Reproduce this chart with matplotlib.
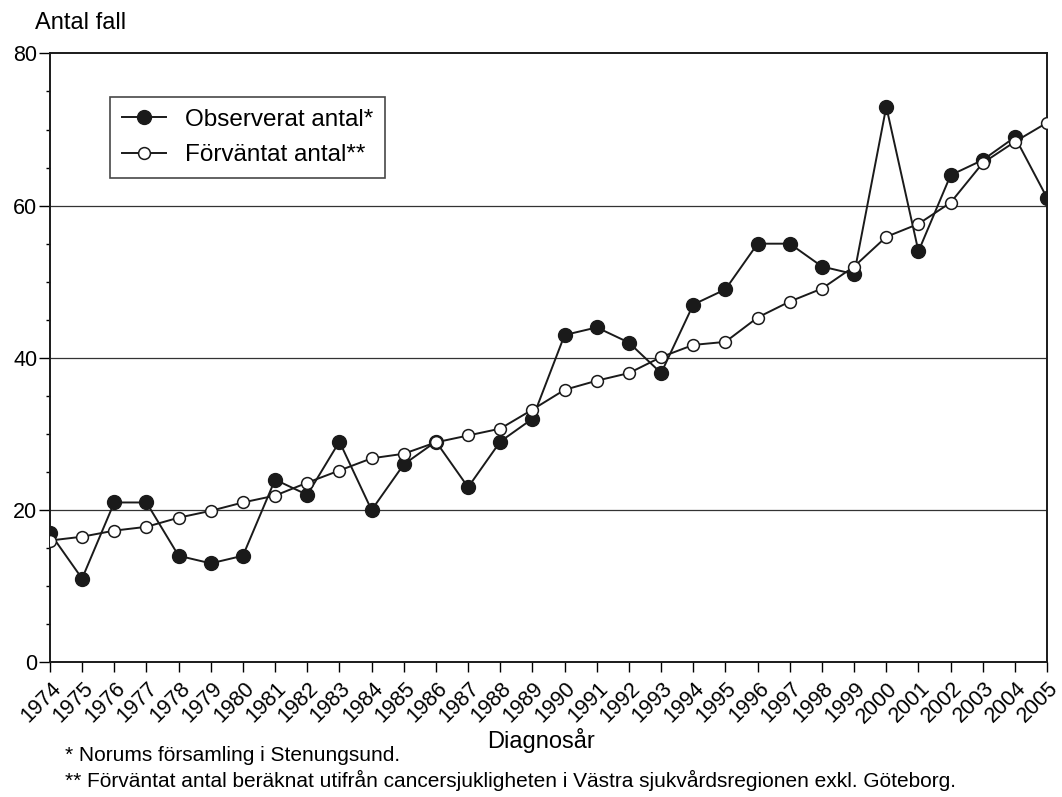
import numpy as np
import matplotlib
matplotlib.use("Agg")
import matplotlib.pyplot as plt
from matplotlib.ticker import MultipleLocator
from matplotlib.transforms import ScaledTranslation

plt.rcParams["font.family"] = ["Liberation Sans", "DejaVu Sans"]

# data
years = list(range(1974, 2006))
observed = [17, 11, 21, 21, 14, 13, 14, 24, 22, 29, 20, 26, 29, 23, 29, 32,
            43, 44, 42, 38, 47, 49, 55, 55, 52, 51, 73, 54, 64, 66, 69, 61]
expected = [16.0, 16.5, 17.3, 17.8, 19.0, 19.9, 21.0, 21.9, 23.6, 25.2, 26.8, 27.4,
            28.9, 29.8, 30.7, 33.2, 35.8, 37.0, 38.0, 40.1, 41.7, 42.1, 45.3, 47.4,
            49.1, 52.0, 55.9, 57.6, 60.4, 65.6, 68.4, 70.9]

fig = plt.figure(figsize=(10.62, 7.97), dpi=100)
ax = fig.add_axes([0.047, 0.169, 0.939, 0.764])

for y in [20, 40, 60]:
    ax.axhline(y, color="#333333", lw=0.9, zorder=1)

ax.plot(years, observed, color="#1a1a1a", lw=1.4, marker="o", ms=10,
        mfc="#1a1a1a", mec="#1a1a1a", label="Observerat antal*", zorder=3)
ax.plot(years, expected, color="#1a1a1a", lw=1.4, marker="o", ms=8.5,
        mfc="white", mec="#1a1a1a", mew=1.1, label="Förväntat antal**", zorder=4)

ax.set_xlim(1974, 2005)
ax.set_ylim(0, 80)
ax.yaxis.set_major_locator(MultipleLocator(20))
ax.yaxis.set_minor_locator(MultipleLocator(5))
ax.tick_params(axis="y", which="major", length=8, width=1, labelsize=15.5, pad=1)
ax.tick_params(axis="y", which="minor", length=3, width=1)
ax.tick_params(axis="x", which="major", length=7, width=1, labelbottom=False)
ax.set_xticks(years)

# rotated year labels, placed a little right of / below each tick like the original
lab_tr = ax.get_xaxis_transform() + ScaledTranslation(12 / 100, -27 / 100, fig.dpi_scale_trans)
for yr in years:
    ax.text(yr, 0, str(yr), transform=lab_tr, rotation=45, rotation_mode="anchor",
            ha="right", va="baseline", fontsize=15.5, clip_on=False)

for s in ax.spines.values():
    s.set_linewidth(1.4)
    s.set_color("#1a1a1a")

leg = ax.legend(loc="upper left", bbox_to_anchor=(0.06, 0.929), borderaxespad=0,
                fontsize=17.5, frameon=True, fancybox=False, edgecolor="#1a1a1a",
                handlelength=1.8, borderpad=0.5, labelspacing=0.55)
leg.get_frame().set_linewidth(1.2)

fig.text(0.033, 0.971, "Antal fall", fontsize=17, va="center", ha="left")
fig.text(0.509, 0.071, "Diagnosår", fontsize=17, va="center", ha="center")
fig.text(0.061, 0.052, "* Norums församling i Stenungsund.", fontsize=15,
         va="center", ha="left")
fig.text(0.061, 0.021, "** Förväntat antal beräknat utifrån cancersjukligheten i Västra sjukvårdsregionen exkl. Göteborg.",
         fontsize=15, va="center", ha="left")

fig.savefig("out.png", dpi=100)
